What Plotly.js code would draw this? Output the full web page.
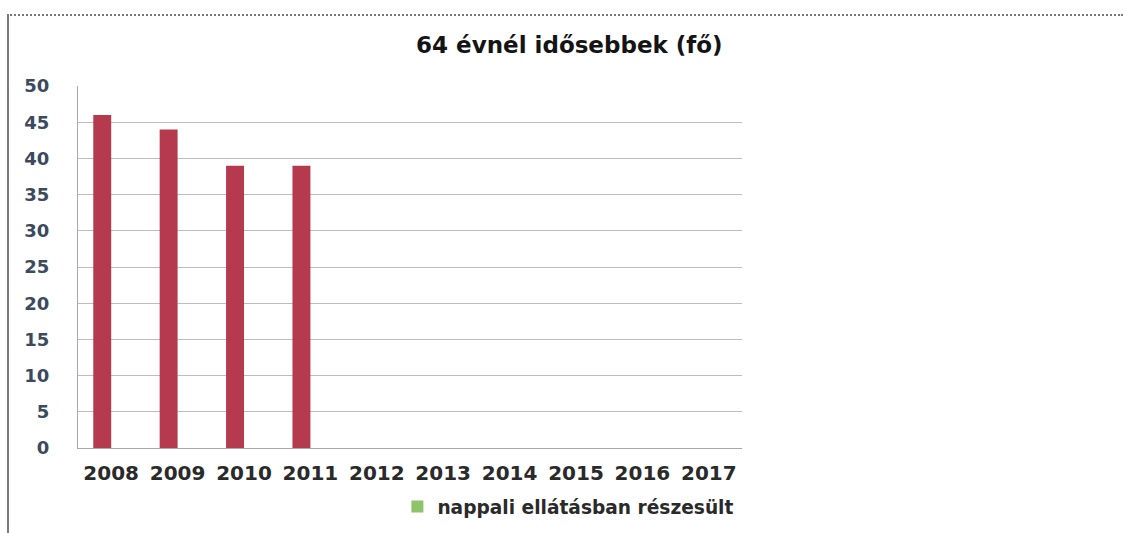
<!DOCTYPE html>
<html>
<head>
<meta charset="utf-8">
<script src="https://cdn.plot.ly/plotly-3.0.1.min.js"></script>
<style>
html,body{margin:0;padding:0;background:#fff;}
#chart{position:absolute;left:0;top:0;width:1123px;height:533px;}
#frame{position:absolute;left:7px;top:14px;width:1116px;height:519px;border-left:2px solid #7a7a7a;border-top:2px dotted #777;pointer-events:none;box-sizing:border-box;}
</style>
</head>
<body>
<div id="chart"></div>
<div id="frame"></div>
<script>
const years = ['2008','2009','2010','2011','2012','2013','2014','2015','2016','2017'];
const values = [46, 44, 39, 39, null, null, null, null, null, null];
const seriesName = 'nappali ellátásban részesült';
const chartTitle = '64 évnél idősebbek (fő)';
const yTicks = [0,5,10,15,20,25,30,35,40,45,50];

const font = 'DejaVu Sans, Verdana, sans-serif';

const traces = [
  {
    type: 'bar',
    x: years,
    y: values,
    marker: {color: '#B63A4E'},
    showlegend: false,
    hoverinfo: 'x+y'
  },
  {
    type: 'bar',
    x: years,
    y: years.map(() => null),
    name: '<b>' + seriesName + '</b>',
    marker: {color: '#8DC36B'},
    showlegend: true
  }
];

const layout = {
  width: 1123,
  height: 533,
  margin: {l: 78, r: 381, t: 86, b: 85, autoexpand: false},
  paper_bgcolor: '#ffffff',
  plot_bgcolor: '#ffffff',
  barmode: 'group',
  bargap: 0.46,
  bargroupgap: 0,
  title: {
    text: '<b>' + chartTitle + '</b>',
    font: {family: font, size: 23, color: '#141414'},
    x: 0.507, xanchor: 'center', xref: 'container',
    y: 0.915, yanchor: 'middle', yref: 'container'
  },
  xaxis: {
    type: 'category',
    categoryorder: 'array',
    categoryarray: years,
    tickvals: years,
    ticktext: years.map(y => '<b>' + y + '</b>'),
    tickfont: {family: font, size: 20, color: '#2a2a2a'},
    showline: true, linecolor: '#a8a8a8', linewidth: 1,
    showgrid: false, ticks: '', ticklabelstandoff: 7,
    automargin: false,
    fixedrange: true
  },
  yaxis: {
    range: [0, 50],
    tickvals: yTicks,
    ticktext: yTicks.map(v => '<b>' + v + '</b>'),
    tickfont: {family: font, size: 18, color: '#3b4a5c'},
    showline: true, linecolor: '#a8a8a8', linewidth: 1,
    showgrid: true, gridcolor: '#bdbdbd', gridwidth: 1,
    zeroline: false, ticks: '', ticklabelstandoff: 24,
    automargin: false,
    fixedrange: true
  },
  legend: {
    orientation: 'h',
    x: 0.481, xanchor: 'left',
    y: -0.163, yanchor: 'middle',
    font: {family: font, size: 18.6, color: '#2a2a2a'},
    bgcolor: 'rgba(0,0,0,0)',
    itemwidth: 30
  },
  showlegend: true
};

Plotly.newPlot('chart', traces, layout, {displayModeBar: false, staticPlot: true});
</script>
</body>
</html>
